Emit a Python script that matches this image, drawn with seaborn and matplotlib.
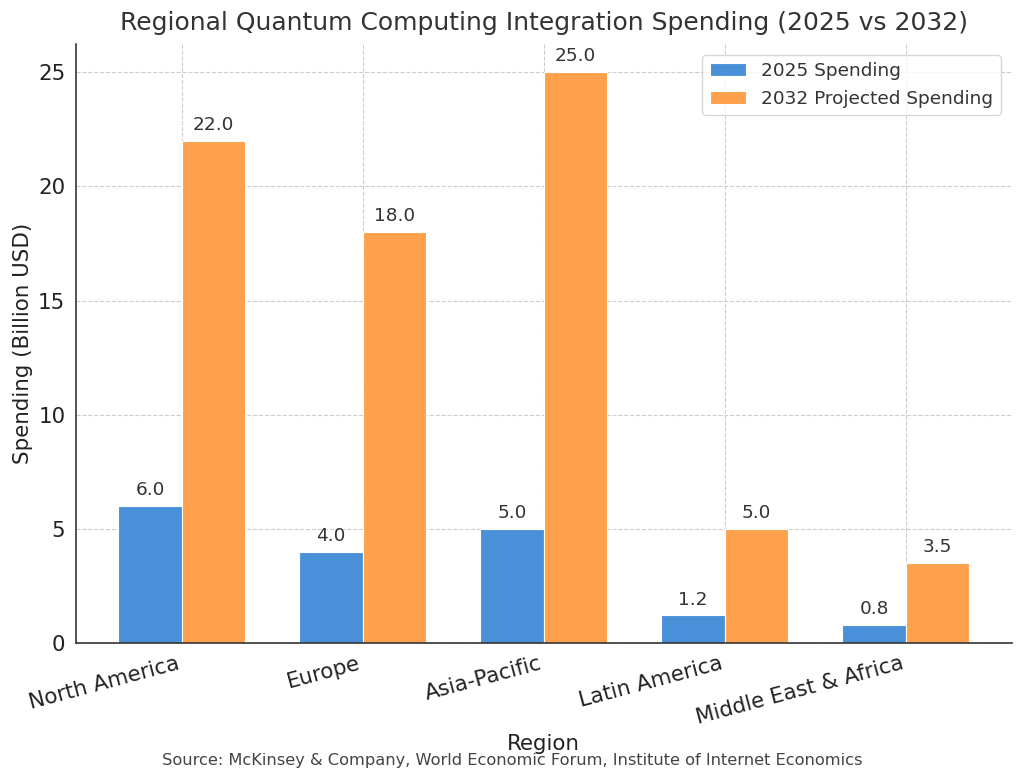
import matplotlib
matplotlib.use('Agg')
import matplotlib.pyplot as plt
import seaborn as sns
import pandas as pd

regions = ['North America', 'Europe', 'Asia-Pacific', 'Latin America', 'Middle East & Africa']
spend_2025 = [6.0, 4.0, 5.0, 1.2, 0.8]
spend_2032 = [22.0, 18.0, 25.0, 5.0, 3.5]
series_names = ['2025 Spending', '2032 Projected Spending']

df = pd.DataFrame({
    'Region': regions * 2,
    'Spending': spend_2025 + spend_2032,
    'Series': [series_names[0]] * len(regions) + [series_names[1]] * len(regions),
})

sns.set_style('white')
plt.rcParams['font.family'] = 'sans-serif'
plt.rcParams['font.sans-serif'] = ['DejaVu Sans']
text_color = '#333333'

fig, ax = plt.subplots(figsize=(10.24, 7.83), dpi=100)

sns.barplot(data=df, x='Region', y='Spending', hue='Series', width=0.7, gap=0,
            palette=['#4a90d9', '#ffa04d'], edgecolor='white', linewidth=0.8,
            saturation=1, ax=ax)

ax.set_axisbelow(True)
ax.grid(True, axis='both', linestyle='--', color='#cccccc', linewidth=0.8)

for container in ax.containers:
    ax.bar_label(container, fmt='%.1f', padding=5, fontsize=13.3, color=text_color)

ax.set_title('Regional Quantum Computing Integration Spending (2025 vs 2032)',
             fontsize=18, color=text_color, pad=10)
ax.set_xlabel('Region', fontsize=15.4, color='#222222')
ax.set_ylabel('Spending (Billion USD)', fontsize=15.4, color='#222222')
ax.tick_params(axis='both', labelsize=15.4, colors='#222222', length=4)
plt.setp(ax.get_xticklabels(), rotation=15, ha='right')
ax.set_yticks([0, 5, 10, 15, 20, 25])
ax.set_xlim(-0.585, 4.585)
ax.set_ylim(0, 26.25)

for side in ['top', 'right']:
    ax.spines[side].set_visible(False)
for side in ['left', 'bottom']:
    ax.spines[side].set_color('#333333')
    ax.spines[side].set_linewidth(1.2)

ax.legend(title=None, fontsize=13.3, loc='upper right', frameon=True,
          labelcolor=text_color, borderaxespad=0.6)

fig.text(0.5, 0.029, 'Source: McKinsey & Company, World Economic Forum, Institute of Internet Economics',
         ha='center', va='center', fontsize=11.7, color='#444444')

fig.subplots_adjust(left=0.074, right=0.988, top=0.944, bottom=0.179)
fig.savefig('out.png', dpi=100)
